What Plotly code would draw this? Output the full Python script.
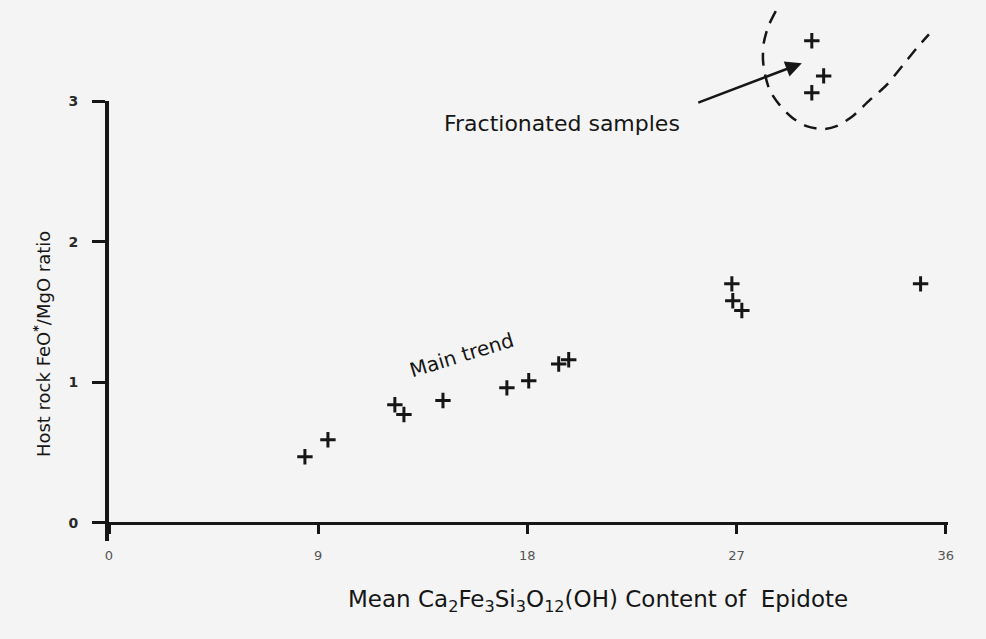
import plotly.graph_objects as go

# Mean Ca2Fe3Si3O12(OH) content of epidote vs host-rock FeO*/MgO
main_x = [8.43, 9.42, 12.30, 12.69, 14.37, 17.12, 18.06, 19.35, 19.78, 26.80, 26.84, 27.23, 34.92]
main_y = [0.47, 0.59, 0.84, 0.77, 0.87, 0.96, 1.01, 1.13, 1.16, 1.70, 1.58, 1.51, 1.70]

frac_x = [30.24, 30.75, 30.24]
frac_y = [3.43, 3.18, 3.06]

# dashed outline around the fractionated group
outline_x = [28.69, 28.36, 28.17, 28.14, 28.22, 28.43, 28.86, 29.36, 30.01, 30.72,
             31.30, 32.01, 32.73, 33.45, 34.16, 34.74, 35.28]
outline_y = [3.641, 3.529, 3.411, 3.292, 3.197, 3.078, 2.972, 2.888, 2.822, 2.801,
             2.822, 2.895, 3.007, 3.114, 3.256, 3.375, 3.475]

x_ticks = [0, 9, 18, 27, 36]
x_tick_text = ["0", "9", "18", "27", "36"]
y_ticks = [0, 1, 2, 3]
y_tick_text = ["0", "1", "2", "3"]

X_RANGE = [0, 36.1]
# the drawn y axis stops at 3; the band above it holds the fractionated group
Y_LOW, Y_AXIS_TOP, Y_TOP = -0.13, 3.0, 3.72

FONT = "DejaVu Sans"
INK = "#161616"

marker_style = dict(symbol="cross-thin", size=11, line=dict(color=INK, width=3))

fig = go.Figure()

# main trend on the visible axis (y2), which shares its scale with y
fig.add_trace(go.Scatter(
    x=main_x, y=main_y, mode="markers", xaxis="x", yaxis="y2",
    marker=marker_style, cliponaxis=False, showlegend=False,
))
# fractionated samples and their outline on the taller axis
fig.add_trace(go.Scatter(
    x=outline_x, y=outline_y, mode="lines", xaxis="x", yaxis="y",
    line=dict(color=INK, width=2.5, dash="13px,9px", shape="spline", smoothing=0.8),
    hoverinfo="skip", showlegend=False,
))
fig.add_trace(go.Scatter(
    x=frac_x, y=frac_y, mode="markers", xaxis="x", yaxis="y",
    marker=marker_style, cliponaxis=False, showlegend=False,
))

y_pos = (0 - Y_LOW) / (Y_TOP - Y_LOW)
y2_top = (Y_AXIS_TOP - Y_LOW) / (Y_TOP - Y_LOW)

fig.update_layout(
    width=986, height=639,
    margin=dict(l=109, r=38, t=0, b=98, autoexpand=False),
    paper_bgcolor="#f4f4f4", plot_bgcolor="rgba(0,0,0,0)",
    showlegend=False,
    xaxis=dict(
        range=X_RANGE, domain=[0, 1], anchor="free", position=y_pos,
        showline=True, linecolor=INK, linewidth=3,
        ticks="outside", ticklen=9, tickwidth=2.5, tickcolor=INK,
        tickvals=x_ticks, ticktext=x_tick_text,
        tickfont=dict(family=FONT, size=13, color="#555555"),
        ticklabelstandoff=11, automargin=False,
        showgrid=False, zeroline=False,
    ),
    yaxis=dict(
        range=[Y_LOW, Y_TOP], domain=[0, 1], anchor="x",
        visible=False, showgrid=False, zeroline=False, automargin=False,
    ),
    yaxis2=dict(
        range=[Y_LOW, Y_AXIS_TOP], domain=[0, y2_top], anchor="x",
        showline=True, linecolor=INK, linewidth=4,
        ticks="outside", ticklen=13, tickwidth=3, tickcolor=INK,
        tickvals=y_ticks, ticktext=y_tick_text,
        tickfont=dict(family=FONT, size=14, color="#2a2a2a", weight="bold"),
        ticklabelstandoff=11, automargin=False,
        showgrid=False, zeroline=False,
    ),
)

annotations = [
    dict(x=15.18, y=1.192, xref="x", yref="y", text="Main trend", showarrow=False,
         textangle=-17, font=dict(family=FONT, size=20, color=INK)),
    dict(x=19.48, y=2.843, xref="x", yref="y", text="Fractionated samples", showarrow=False,
         font=dict(family=FONT, size=22, color=INK)),
    dict(x=29.81, y=3.27, xref="x", yref="y", ax=25.29, ay=2.986, axref="x", ayref="y",
         text="", showarrow=True, arrowhead=2, arrowsize=1.3, arrowwidth=2.5,
         arrowcolor=INK, standoff=0),
    dict(x=-0.0965, y=0.364, xref="paper", yref="paper",
         text="Host rock FeO<sup><b>*</b></sup>/MgO ratio", showarrow=False, textangle=-90,
         font=dict(family=FONT, size=18, color=INK)),
    dict(x=0.583, y=-0.142, xref="paper", yref="paper",
         text="Mean Ca<sub>2</sub>Fe<sub>3</sub>Si<sub>3</sub>O<sub>12</sub>(OH) Content of  Epidote",
         showarrow=False, font=dict(family=FONT, size=23, color=INK)),
]
fig.update_layout(annotations=annotations)

fig.write_html("out.html")
